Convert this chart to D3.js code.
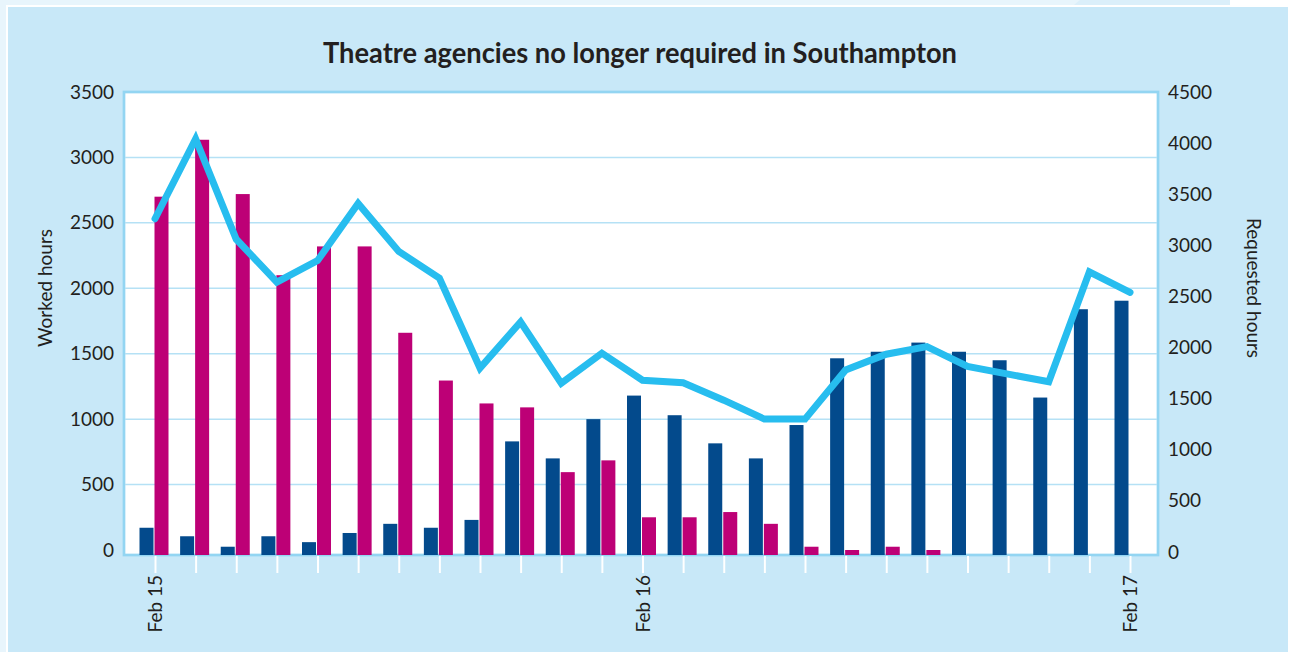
<!DOCTYPE html>
<html>
<head>
<meta charset="utf-8">
<script src="https://cdn.jsdelivr.net/npm/d3@7"></script>
<style>
  body { margin: 0; background: #fff; }
  svg { display: block; font-family: Lato, "Open Sans", sans-serif; }
</style>
</head>
<body>
<svg id="chart" width="1292" height="652"></svg>
<script>
// months on the x axis, one per tick
const months = ["Feb 15","Mar 15","Apr 15","May 15","Jun 15","Jul 15","Aug 15","Sep 15","Oct 15","Nov 15","Dec 15","Jan 16",
                "Feb 16","Mar 16","Apr 16","May 16","Jun 16","Jul 16","Aug 16","Sep 16","Oct 16","Nov 16","Dec 16","Jan 17","Feb 17"];
const labelledMonths = ["Feb 15", "Feb 16", "Feb 17"];

// worked hours (left axis)
const staffHours  = [170,105,25,105,60,130,200,170,230,830,700,1000,1180,1030,815,700,955,1465,1515,1585,1515,1450,1165,1840,1905];
const agencyHours = [2700,3135,2720,2100,2320,2320,1660,1295,1120,1090,595,685,250,250,290,200,25,0,25,0,null,null,null,null,null];
// requested hours (right axis)
const requestedHours = [3260,4040,3060,2640,2850,3410,2940,2680,1800,2250,1650,1945,1680,1655,1485,1300,1300,1780,1935,2010,1815,1740,1665,2740,2540];

const leftTicks  = d3.range(0, 3501, 500);
const rightTicks = d3.range(0, 4501, 500);

const svg = d3.select("#chart");
const plot = { left: 124, right: 1158, top: 92, bottom: 555 };
const ink = "#231f20";

// page frame
svg.append("rect").attr("x", 0).attr("y", 0).attr("width", 1230).attr("height", 5).attr("fill", "#e8f5fc");
svg.append("polygon").attr("points", "1080,0 1230,0 1230,5 1074,5").attr("fill", "#dbeffa");
svg.append("rect").attr("x", 0).attr("y", 0).attr("width", 6).attr("height", 652).attr("fill", "#e8f5fc");
svg.append("rect").attr("x", 8).attr("y", 7).attr("width", 1280).attr("height", 645).attr("fill", "#c8e8f8");

const x = d3.scalePoint().domain(months).range([155, 1130]);
const sub = d3.scaleBand().domain(["staff", "agency"]).range([-15.5, 13.5]).paddingInner(1 / 15);
const y = d3.scaleLinear().domain([0, 3500]).range([550, plot.top]);
const yR = d3.scaleLinear().domain([0, 4500]).range([552, plot.top]);

// plot area
svg.append("rect")
  .attr("x", plot.left).attr("y", plot.top)
  .attr("width", plot.right - plot.left).attr("height", plot.bottom - plot.top)
  .attr("fill", "#fff").attr("stroke", "#93d5f2").attr("stroke-width", 2.7);

svg.append("g")
  .selectAll("line")
  .data(leftTicks.filter(v => v > 0 && v < 3500))
  .join("line")
  .attr("x1", plot.left + 1).attr("x2", plot.right - 1)
  .attr("y1", d => y(d)).attr("y2", d => y(d))
  .attr("stroke", "#b5e1f5").attr("stroke-width", 1.5);

// bars
const bars = [];
months.forEach((m, i) => {
  bars.push({ month: m, key: "staff", value: staffHours[i] });
  if (agencyHours[i] != null) bars.push({ month: m, key: "agency", value: agencyHours[i] });
});

svg.append("g")
  .selectAll("rect")
  .data(bars)
  .join("rect")
  .attr("x", d => x(d.month) + sub(d.key))
  .attr("width", sub.bandwidth())
  .attr("y", d => y(d.value))
  .attr("height", d => plot.bottom - y(d.value))
  .attr("fill", d => d.key === "staff" ? "#034a8c" : "#bd0076");

// requested hours line
const line = d3.line()
  .x((d, i) => x(months[i]))
  .y(d => yR(d));

svg.append("path")
  .datum(requestedHours)
  .attr("d", line)
  .attr("fill", "none")
  .attr("stroke", "#27bdef")
  .attr("stroke-width", 7)
  .attr("stroke-linejoin", "miter")
  .attr("stroke-linecap", "round");

// axes
const xAxis = svg.append("g")
  .attr("transform", `translate(0,${plot.bottom + 1})`)
  .call(d3.axisBottom(x).tickSize(17).tickFormat(d => labelledMonths.includes(d) ? d : ""));
xAxis.select(".domain").remove();
xAxis.selectAll(".tick line").attr("stroke", "#fff").attr("stroke-width", 2);
xAxis.selectAll(".tick text")
  .attr("transform", "rotate(-90)")
  .attr("text-anchor", "end")
  .attr("x", -19).attr("y", 0).attr("dy", "0.35em")
  .attr("font-size", 19).attr("font-family", "Lato").attr("fill", ink);

const yAxis = svg.append("g")
  .attr("transform", `translate(${plot.left},0)`)
  .call(d3.axisLeft(y).tickValues(leftTicks).tickFormat(d3.format("d")).tickSize(0).tickPadding(10));
yAxis.select(".domain").remove();
yAxis.selectAll("text").attr("font-size", 19).attr("font-family", "Lato").attr("fill", ink);

const yAxisR = svg.append("g")
  .attr("transform", `translate(${plot.right},0)`)
  .call(d3.axisRight(yR).tickValues(rightTicks).tickFormat(d3.format("d")).tickSize(0).tickPadding(10));
yAxisR.select(".domain").remove();
yAxisR.selectAll("text").attr("font-size", 19).attr("font-family", "Lato").attr("fill", ink);

// titles
svg.append("text")
  .attr("x", 640).attr("y", 63)
  .attr("text-anchor", "middle")
  .attr("font-size", 28).attr("font-weight", 700)
  .attr("textLength", 634).attr("lengthAdjust", "spacingAndGlyphs")
  .attr("fill", ink)
  .text("Theatre agencies no longer required in Southampton");

svg.append("text")
  .attr("transform", "translate(44,288) rotate(-90)")
  .attr("text-anchor", "middle").attr("dominant-baseline", "central")
  .attr("font-size", 19).attr("fill", ink)
  .text("Worked hours");

svg.append("text")
  .attr("transform", "translate(1254,288) rotate(90)")
  .attr("text-anchor", "middle").attr("dominant-baseline", "central")
  .attr("font-size", 19).attr("fill", ink)
  .text("Requested hours");
</script>
</body>
</html>
